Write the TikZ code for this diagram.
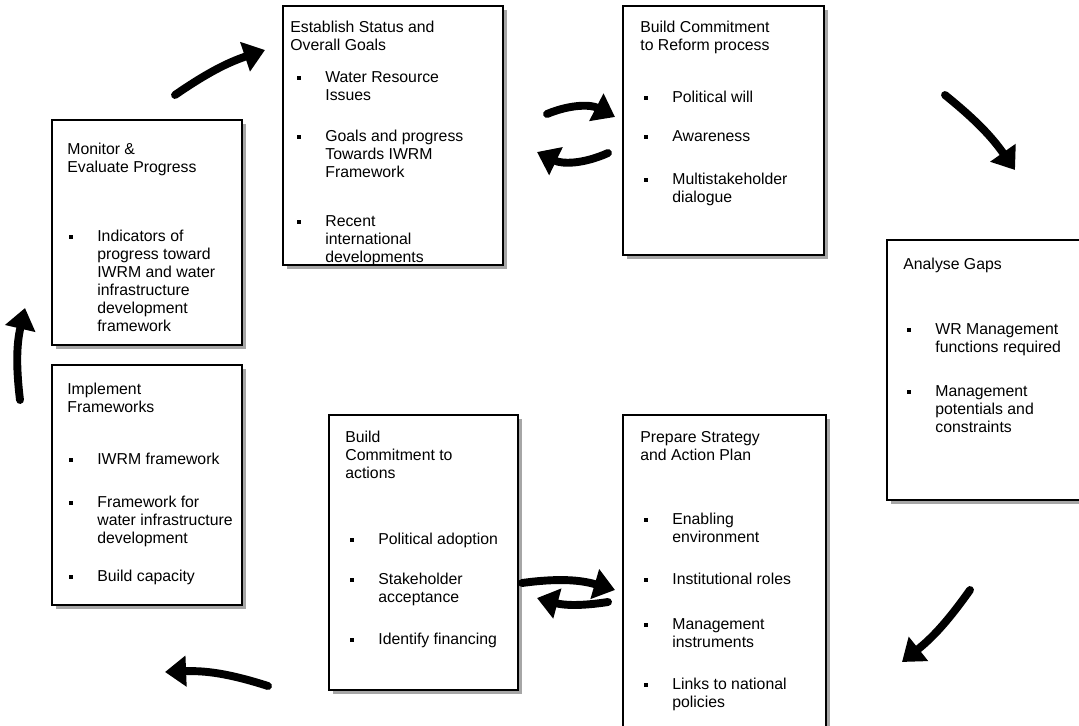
\documentclass[tikz,border=0pt]{standalone}
\usepackage{fontspec}
\setmainfont{Liberation Sans}
\usetikzlibrary{arrows.meta,positioning,fit,calc,shadows}

\tikzset{
  box/.style={draw, fill=white, inner sep=0pt, line width=0.9pt,
    drop shadow={shadow xshift=0.08cm, shadow yshift=-0.08cm, opacity=1, fill=black!35}},
  ttl/.style={anchor=north west, align=left, inner sep=0pt},
  itm/.style={anchor=north west, align=left, inner sep=0pt},
  bul/.style={fill, inner sep=0pt, minimum size=0.09cm},
  fatarrow/.style={line width=4.5pt, line cap=round, -{Triangle[length=12pt,width=17pt]}},
}
\newcommand{\bitem}[3]{% name, position, text
  \node[itm] (#1) at (#2) {#3};
  \node[bul] (#1b) at ($(#1.north west)+(-26,7)$) {};
}

\begin{document}
\begin{tikzpicture}[x=0.02cm, y=-0.02cm, font=\fontsize{9}{10.2}\selectfont]
  \useasboundingbox (0,0) rectangle (1079,726);

  %Boxes
  \node[box, fit={(52,120) (242,345)}] (mon) {};  %Monitor
  \node[box, fit={(52,365) (242,605)}] (imp) {};  %Implement
  \node[box, fit={(283,6) (503,265)}] (est) {};   %Establish
  \node[box, fit={(623,6) (824,255)}] (ref) {};   %Reform
  \node[box, fit={(887,240) (1095,500)}] (gap) {}; %Analyse gaps
  \node[box, fit={(329,415) (518,690)}] (act) {}; %Commitment to actions
  \node[box, fit={(623,415) (826,745)}] (pre) {}; %Prepare strategy

  %Monitor & evaluate
  \node[ttl] (monT) at (67,143) {Monitor \&\\Evaluate Progress};
  \bitem{mon1}{97,230}{Indicators of\\progress toward\\IWRM and water\\infrastructure\\development\\framework}

  %Implement frameworks
  \node[ttl] (impT) at (67,383) {Implement\\Frameworks};
  \bitem{imp1}{97,453}{IWRM framework}
  \bitem{imp2}{97,496}{Framework for\\water infrastructure\\development}
  \bitem{imp3}{97,570}{Build capacity}

  %Establish status
  \node[ttl] (estT) at (290,21) {Establish Status and\\Overall Goals};
  \bitem{est1}{325,71}{Water Resource\\Issues}
  \bitem{est2}{325,130}{Goals and progress\\Towards IWRM\\Framework}
  \bitem{est3}{325,215}{Recent\\international\\developments}

  %Commitment to reform
  \node[ttl] (refT) at (640,21) {Build Commitment\\to Reform process};
  \bitem{ref1}{672,91}{Political will}
  \bitem{ref2}{672,130}{Awareness}
  \bitem{ref3}{672,173}{Multistakeholder\\dialogue}

  %Analyse gaps
  \node[ttl] (gapT) at (903,258) {Analyse Gaps};
  \bitem{gap1}{935,323}{WR Management\\functions required}
  \bitem{gap2}{935,385}{Management\\potentials and\\constraints}

  %Commitment to actions
  \node[ttl] (actT) at (345,431) {Build\\Commitment to\\actions};
  \bitem{act1}{378,533}{Political adoption}
  \bitem{act2}{378,573}{Stakeholder\\acceptance}
  \bitem{act3}{378,633}{Identify financing}

  %Prepare strategy
  \node[ttl] (preT) at (640,431) {Prepare Strategy\\and Action Plan};
  \bitem{pre1}{672,513}{Enabling\\environment}
  \bitem{pre2}{672,573}{Institutional roles}
  \bitem{pre3}{672,618}{Management\\instruments}
  \bitem{pre4}{672,678}{Links to national\\policies}

  %Arrow ends
  \coordinate (a1s) at (175,95);  \coordinate (a1e) at (265,50);
  \coordinate (a2s) at (547,114); \coordinate (a2e) at (615,117);
  \coordinate (a3s) at (608,153); \coordinate (a3e) at (537,152);
  \coordinate (a4s) at (945,95);  \coordinate (a4e) at (1015,170);
  \coordinate (a5s) at (970,590); \coordinate (a5e) at (902,662);
  \coordinate (a6s) at (522,583); \coordinate (a6e) at (615,590);
  \coordinate (a7s) at (608,602); \coordinate (a7e) at (537,598);
  \coordinate (a8s) at (268,686); \coordinate (a8e) at (165,672);
  \coordinate (a9s) at (20,400);  \coordinate (a9e) at (25,308);

  %Cycle arrows
  \draw[fatarrow] (a1s) to[bend left=8] (a1e);
  \draw[fatarrow] (a2s) to[bend left=25] (a2e);
  \draw[fatarrow] (a3s) to[bend left=25] (a3e);
  \draw[fatarrow] (a4s) to[bend left=8] (a4e);
  \draw[fatarrow] (a5s) to[bend left=8] (a5e);
  \draw[fatarrow] (a6s) to[bend left=12] (a6e);
  \draw[fatarrow] (a7s) to[bend left=12] (a7e);
  \draw[fatarrow] (a8s) to[bend right=10] (a8e);
  \draw[fatarrow] (a9s) to[bend left=10] (a9e);
\end{tikzpicture}
\end{document}
